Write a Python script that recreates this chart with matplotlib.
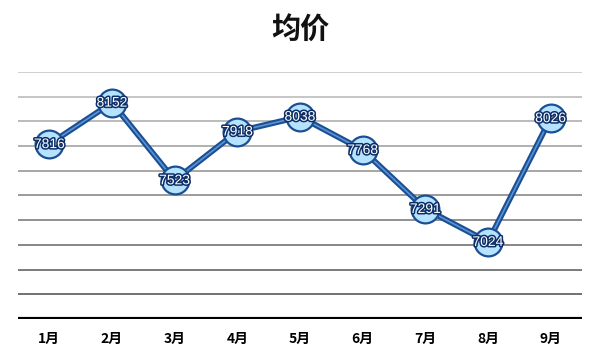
import matplotlib
matplotlib.use("Agg")
import matplotlib.pyplot as plt
import matplotlib.patheffects as pe

months = ["1月", "2月", "3月", "4月", "5月", "6月", "7月", "8月", "9月"]
prices = [7816, 8152, 7523, 7918, 8038, 7768, 7291, 7024, 8026]
y_min, y_max, y_step = 6400, 8400, 200

plt.rcParams['font.family'] = ['Noto Sans CJK SC', 'DejaVu Sans']

fig = plt.figure(figsize=(6, 3.6), dpi=100)
fig.patch.set_facecolor("white")
ax = fig.add_axes([0.03, 0.114, 0.94, 0.686])
ax.set_facecolor("white")

x = list(range(len(months)))
ax.set_xlim(-0.5, len(months) - 0.5)
ax.set_ylim(y_min, y_max)

# gridlines: lighter at top, darker at bottom
levels = list(range(y_min + y_step, y_max + 1, y_step))
n = len(levels)
for i, lv in enumerate(levels):
    t = i / (n - 1)
    g = 0.40 + 0.40 * t
    ax.axhline(lv, color=(g, g, g), lw=1.3, zorder=1)
ax.axhline(y_min, color="black", lw=3, zorder=2)

for s in ax.spines.values():
    s.set_visible(False)
ax.set_yticks([])
ax.set_xticks(x)
ax.set_xticklabels(months, fontsize=10, fontweight="bold")
ax.tick_params(axis="x", length=0, pad=9)

ax.plot(x, prices, color="#1b4f94", lw=4.2, zorder=3, solid_capstyle="round")
ax.plot(x, prices, color="#5b93d6", lw=1.2, zorder=4)
ax.plot(x, prices, linestyle="none", marker="o", markersize=20,
        markerfacecolor="#b5e3ff", markeredgecolor="#1b4f94",
        markeredgewidth=1.6, zorder=5)

for xi, v in zip(x, prices):
    ax.text(xi, v, str(v), ha="center", va="center", fontsize=10,
            family=["Liberation Sans", "DejaVu Sans"], color="white", zorder=6,
            path_effects=[pe.withStroke(linewidth=2.2, foreground="#0d2e66")])

fig.text(0.5, 0.918, "均价", ha="center", va="center", fontsize=21,
         fontweight="bold", color="#111111")

fig.savefig("out.png", dpi=100, facecolor="white")
